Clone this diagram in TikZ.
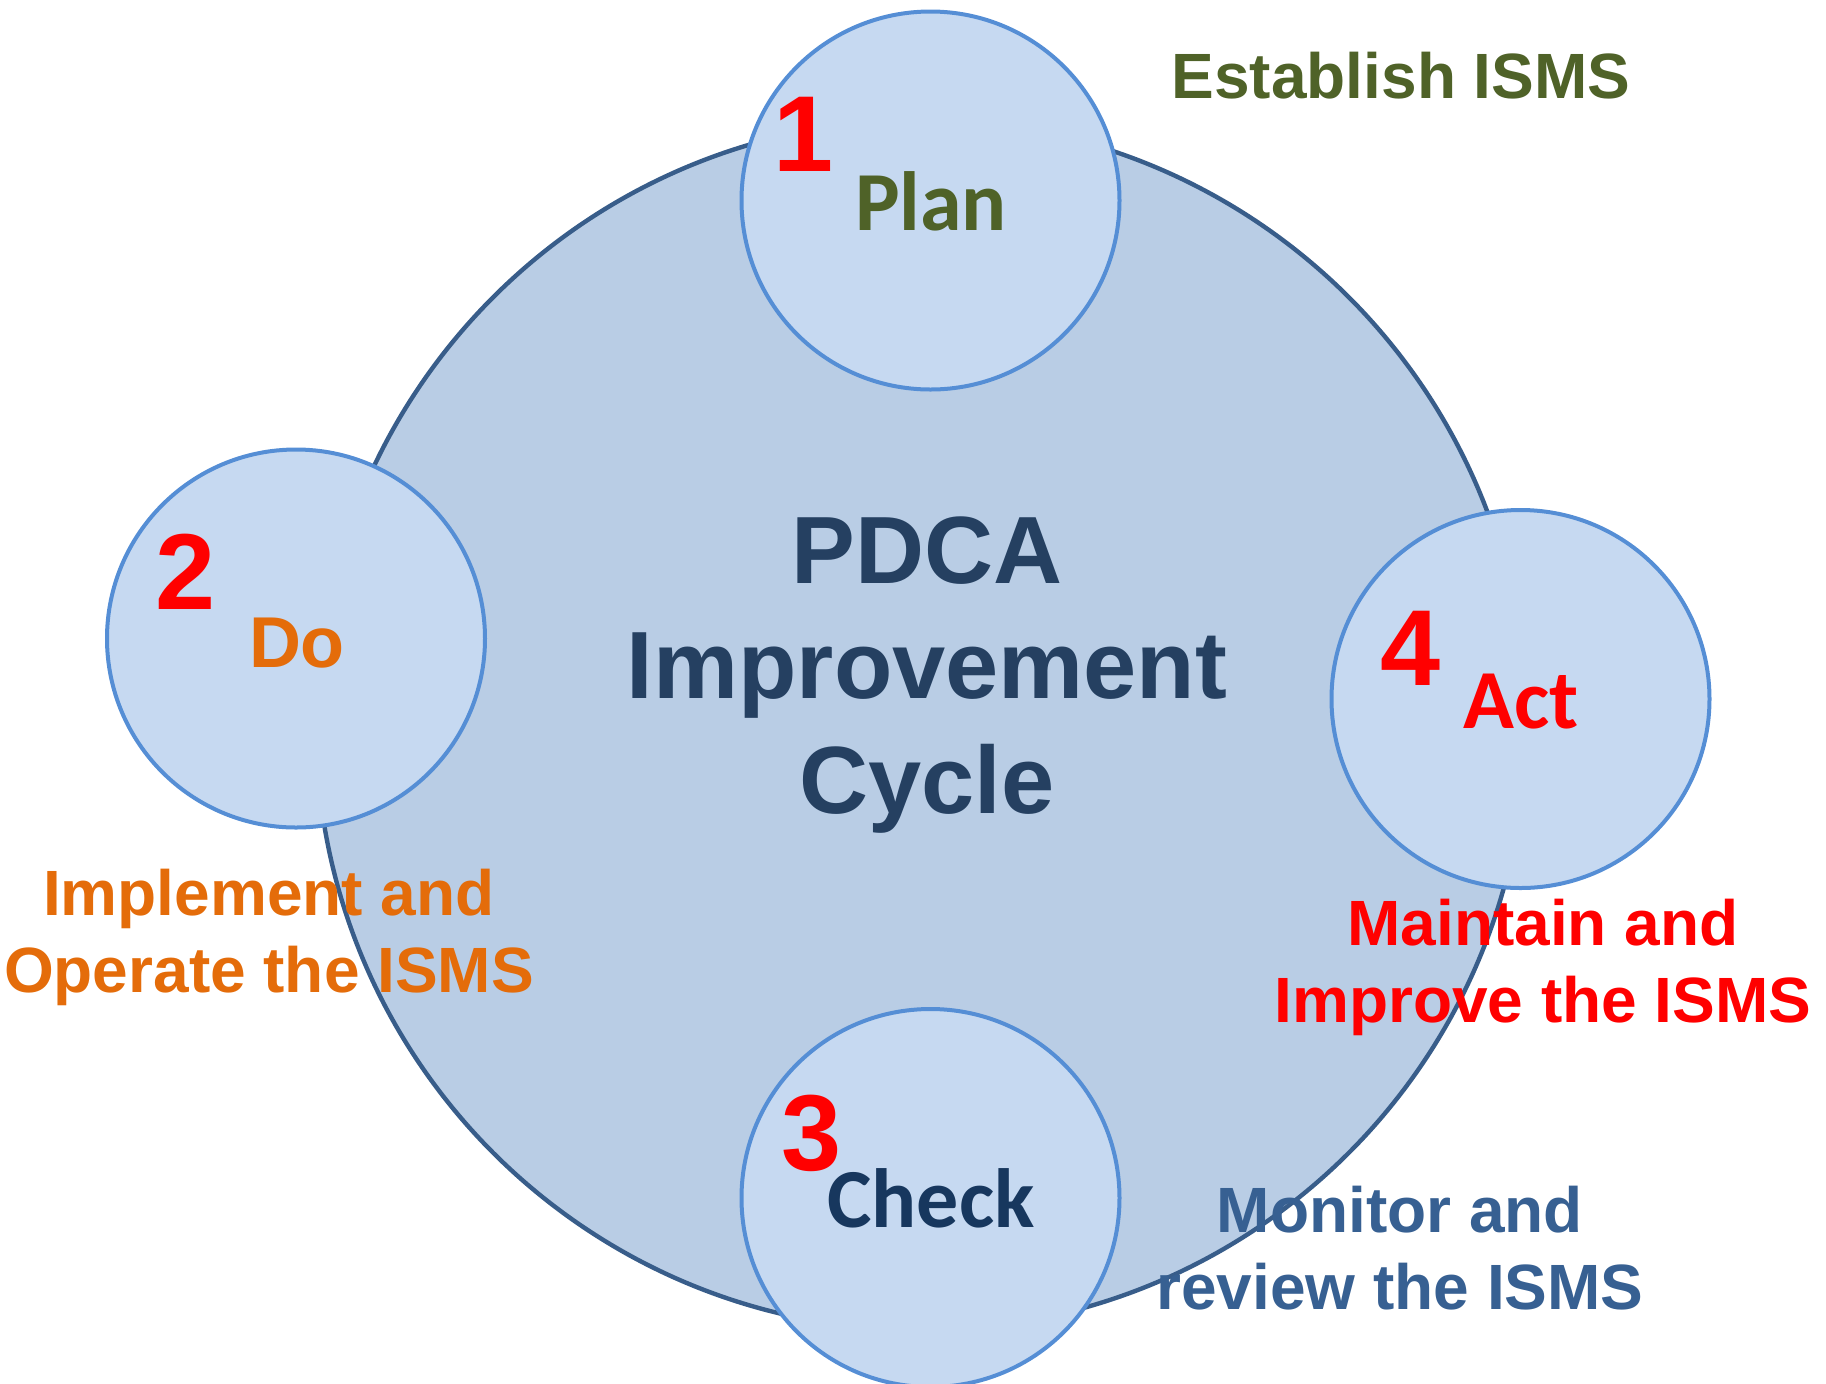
\documentclass[tikz,border=0pt]{standalone}
\usepackage{fontspec}
\setmainfont{Liberation Sans}
\newfontfamily\calibri{Carlito}
\usetikzlibrary{positioning}
\definecolor{ringfill}{HTML}{B9CDE5}
\definecolor{ringline}{HTML}{385D8A}
\definecolor{stagefill}{HTML}{C6D9F1}
\definecolor{stageline}{HTML}{558ED5}
\definecolor{olive}{HTML}{4F6228}
\definecolor{orangeDo}{HTML}{E46C0A}
\definecolor{navy}{HTML}{254061}
\definecolor{checkblue}{HTML}{17375E}
\definecolor{monitorblue}{HTML}{376092}

\begin{document}
\begin{tikzpicture}[x=0.5pt,y=-0.5pt,
    bigring/.style={circle,draw=ringline,fill=ringfill,line width=2.2pt,minimum size=605pt,inner sep=0pt},
    stage/.style={circle,draw=stageline,fill=stagefill,line width=2pt,minimum size=189pt,inner sep=0pt},
    num/.style={anchor=base,inner sep=0pt,text=red,font=\bfseries\fontsize{54}{54}\selectfont},
    phase/.style={anchor=base,inner sep=0pt,font=\calibri\bfseries\fontsize{42}{42}\selectfont},
    note/.style={anchor=base,inner sep=0pt,align=center,font=\bfseries\fontsize{32}{38.5}\selectfont}]
    \clip (0,0) rectangle (1826,1383) ;

    \node[bigring] (cycle) at (921,725) {} ;
    \node[anchor=center,inner sep=0pt,align=center,text=navy,
          font=\bfseries\fontsize{47.8}{57.5}\selectfont] (title) at (927,675)
          {PDCA\\Improvement\\Cycle} ;

    \node[stage] (plan)  at (930.5,200.5) {} ;
    \node[stage] (do)    at (296,638.5) {} ;
    \node[stage] (act)   at (1520.5,699) {} ;
    \node[stage] (check) at (930.5,1198) {} ;

    \node[num] (n1) at (804,171) {1} ;
    \node[num] (n2) at (186,609) {2} ;
    \node[num] (n3) at (812,1170) {3} ;
    \node[num] (n4) at (1411,685) {4} ;

    \node[phase,text=olive] (planlbl) at (931,230) {Plan} ;
    \node[phase,text=orangeDo,font=\bfseries\fontsize{36}{36}\selectfont] (dolbl) at (297,667) {Do} ;
    \node[phase,text=red] (actlbl) at (1521,728) {Act} ;
    \node[phase,text=checkblue] (checklbl) at (931,1227) {Check} ;

    \node[note,text=olive] (establish) at (1401,98) {Establish ISMS} ;
    \node[note,text=orangeDo] (implement) at (269,992) {Implement and\\Operate the ISMS} ;
    \node[note,text=red] (maintain) at (1543,1022) {Maintain and\\Improve the ISMS} ;
    \node[note,text=monitorblue] (monitor) at (1400,1309) {Monitor and\\review the ISMS} ;
\end{tikzpicture}
\end{document}
